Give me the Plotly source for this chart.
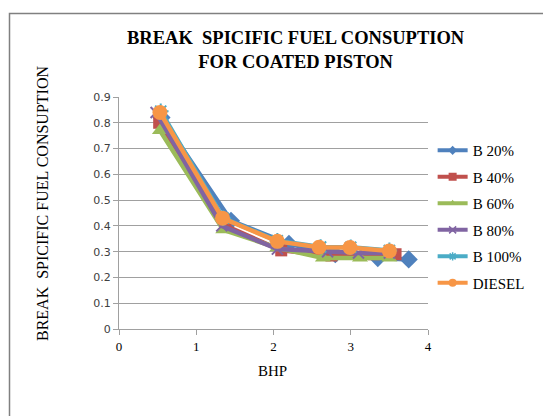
import plotly.graph_objects as go

series_names = ["B 20%", "B 40%", "B 60%", "B 80%", "B 100%", "DIESEL"]
bhp_b20 = [0.55, 1.45, 2.2, 2.8, 3.35, 3.75]
bsfc_b20 = [0.82, 0.42, 0.33, 0.29, 0.275, 0.27]
bhp_b40 = [0.52, 1.38, 2.1, 2.75, 3.3, 3.58]
bsfc_b40 = [0.80, 0.40, 0.305, 0.285, 0.29, 0.29]
bhp_b60 = [0.53, 1.35, 2.05, 2.64, 3.12, 3.5]
bsfc_b60 = [0.77, 0.385, 0.315, 0.275, 0.275, 0.275]
bhp_b80 = [0.48, 1.33, 2.05, 2.7, 3.1, 3.5]
bsfc_b80 = [0.84, 0.40, 0.31, 0.30, 0.295, 0.295]
bhp_b100 = [0.54, 1.35, 2.05, 2.61, 3.0, 3.5]
bsfc_b100 = [0.845, 0.43, 0.342, 0.318, 0.317, 0.305]
bhp_diesel = [0.53, 1.34, 2.05, 2.59, 2.99, 3.5]
bsfc_diesel = [0.84, 0.43, 0.34, 0.317, 0.316, 0.303]

xs = [bhp_b20, bhp_b40, bhp_b60, bhp_b80, bhp_b100, bhp_diesel]
ys = [bsfc_b20, bsfc_b40, bsfc_b60, bsfc_b80, bsfc_b100, bsfc_diesel]
colors = ["#4F81BD", "#C0504D", "#9BBB59", "#8064A2", "#4BACC6", "#F79646"]
symbols = ["diamond", "square", "triangle-up", "x-thin", "asterisk-open", "circle"]
sizes = [14, 12, 14, 11, 13, 15]
leg_sizes = [7, 8, 7, 7, 7, 8]

SERIF = "Times New Roman, Liberation Serif, serif"

fig = go.Figure()
for i, name in enumerate(series_names):
    mk = dict(symbol=symbols[i], size=sizes[i], color=colors[i])
    if symbols[i] in ("x-thin", "asterisk-open"):
        mk["line"] = dict(color=colors[i], width=2)
    fig.add_trace(go.Scatter(
        x=xs[i], y=ys[i], mode="lines+markers", name=name,
        line=dict(color=colors[i], width=4.5),
        marker=mk, showlegend=False,
    ))
for i, name in enumerate(series_names):
    mk = dict(symbol=symbols[i], size=leg_sizes[i], color=colors[i])
    if symbols[i] in ("x-thin", "asterisk-open"):
        mk["line"] = dict(color=colors[i], width=1.5)
    fig.add_trace(go.Scatter(
        x=[None], y=[None], mode="lines+markers", name=name,
        line=dict(color=colors[i], width=4),
        marker=mk, legendgroup=name, showlegend=True,
    ))

fig.update_layout(
    width=543, height=416,
    margin=dict(l=119, r=115, t=97, b=87),
    paper_bgcolor="white", plot_bgcolor="white",
    showlegend=True,
    legend=dict(
        x=1.015, y=0.84, xanchor="left", yanchor="top",
        font=dict(family=SERIF, size=15, color="#000000"),
        tracegroupgap=4,
        bgcolor="rgba(0,0,0,0)",
    ),
    xaxis=dict(
        range=[0, 4], dtick=1, showgrid=False,
        showline=True, linecolor="#A0A0A0", linewidth=1,
        ticks="outside", ticklen=5, tickcolor="#A0A0A0",
        tickfont=dict(family=SERIF, size=13, color="#000000"),
        zeroline=False,
    ),
    yaxis=dict(
        range=[0, 0.9], dtick=0.1,
        showgrid=True, gridcolor="#A0A0A0", gridwidth=1,
        showline=True, linecolor="#A0A0A0", linewidth=1,
        ticks="outside", ticklen=5, tickcolor="#A0A0A0",
        tickfont=dict(family="DejaVu Sans", size=11, color="#404040"),
        zeroline=False,
    ),
    annotations=[
        dict(text="<b>BREAK  SPICIFIC FUEL CONSUPTION<br>FOR COATED PISTON</b>",
             xref="paper", yref="paper", x=(296 - 119) / 309, y=(329 - 50) / 232,
             xanchor="center", yanchor="middle", showarrow=False,
             font=dict(family=SERIF, size=18.5, color="#000000")),
        dict(text="BREAK  SPICIFIC FUEL CONSUPTION",
             xref="paper", yref="paper", x=(42 - 119) / 309, y=(329 - 204) / 232,
             xanchor="center", yanchor="middle", textangle=-90, showarrow=False,
             font=dict(family=SERIF, size=16, color="#000000")),
        dict(text="BHP",
             xref="paper", yref="paper", x=(272 - 119) / 309, y=(329 - 371) / 232,
             xanchor="center", yanchor="middle", showarrow=False,
             font=dict(family=SERIF, size=15, color="#000000")),
    ],
    shapes=[
        dict(type="rect", xref="paper", yref="paper",
             x0=(9.5 - 119) / 309, x1=(560 - 119) / 309,
             y0=(329 - 430) / 232, y1=(329 - 13.5) / 232,
             line=dict(color="#808080", width=1.5), fillcolor="rgba(0,0,0,0)"),
    ],
)

fig.write_html("out.html")
